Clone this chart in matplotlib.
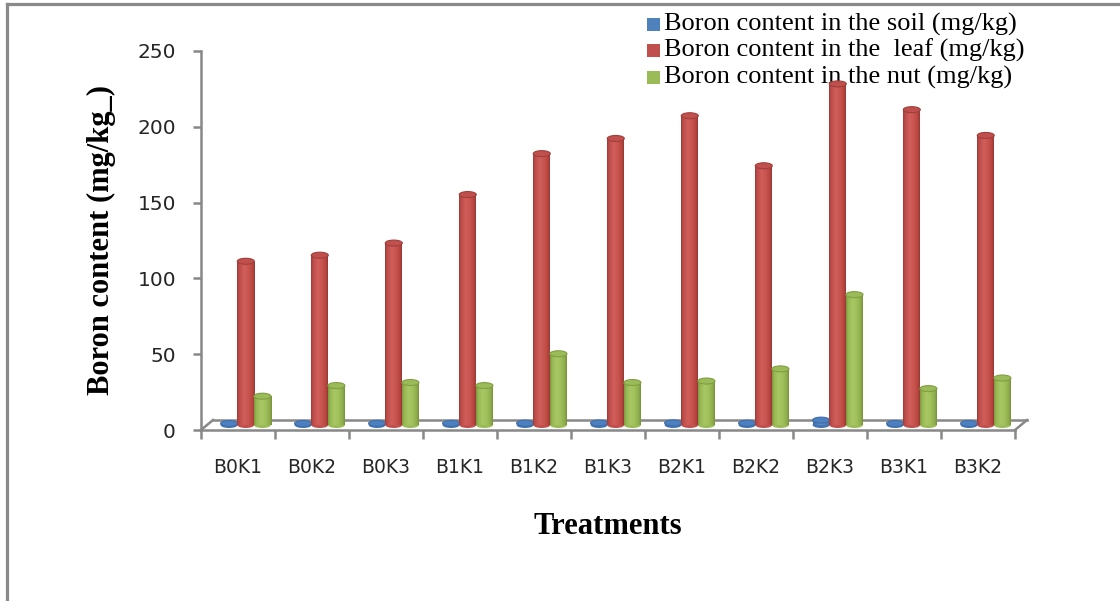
import numpy as np
import matplotlib
matplotlib.use("Agg")
import matplotlib.pyplot as plt
from matplotlib.colors import LinearSegmentedColormap
from matplotlib.patches import Ellipse, Rectangle
from matplotlib.lines import Line2D

# ---- data -------------------------------------------------------------
treatments = ["B0K1", "B0K2", "B0K3", "B1K1", "B1K2", "B1K3",
              "B2K1", "B2K2", "B2K3", "B3K1", "B3K2"]
soil = [1.0, 1.0, 1.1, 1.1, 1.2, 1.3, 1.4, 1.2, 3.2, 1.0, 1.0]
leaf = [108, 112, 120, 152, 179, 189, 204, 171, 225, 208, 191]
nut = [19, 26, 28, 26, 47, 28, 29, 37, 86, 24, 31]
series_labels = ["Boron content in the soil (mg/kg)",
                 "Boron content in the  leaf (mg/kg)",
                 "Boron content in the nut (mg/kg)"]
y_ticks = [0, 50, 100, 150, 200, 250]

# ---- figure geometry ----------------------------------------------------
W, H, DPI = 1120, 601, 100
fig = plt.figure(figsize=(W / DPI, H / DPI), dpi=DPI)
fig.patch.set_facecolor("white")

ax_left, ax_right = 201, 1015          # pixel extent of the category axis
ax_top, ax_bot = 51, 430                # pixel extent of the value axis
ax = fig.add_axes([ax_left / W, 1 - ax_bot / H,
                   (ax_right - ax_left) / W, (ax_bot - ax_top) / H])
ax.set_xlim(0, len(treatments))
ax.set_ylim(0, 250)
ax.patch.set_alpha(0)

px_x = len(treatments) / (ax_right - ax_left)   # data units per pixel
px_y = 250 / (ax_bot - ax_top)

GRAY = "#888888"

# frame around the chart area (top and left edges)
fig.add_artist(Line2D([7 / W, 7 / W], [0, 1 - 4 / H], color="#8a8a8a",
                      lw=2.3, transform=fig.transFigure))
fig.add_artist(Line2D([7 / W, 1], [1 - 4 / H, 1 - 4 / H], color="#8a8a8a",
                      lw=2.3, transform=fig.transFigure))

# ---- axes styling -------------------------------------------------------
for s in ["top", "right", "bottom"]:
    ax.spines[s].set_visible(False)
ax.spines["left"].set_color(GRAY)
ax.spines["left"].set_linewidth(1.8)
ax.set_yticks(y_ticks)
ax.tick_params(axis="y", direction="out", length=6, width=1.8, color=GRAY,
               pad=12, labelsize=14.5, labelcolor="#262626")

n = len(treatments)
ax.set_xticks(np.arange(n + 1))
ax.set_xticklabels([])
ax.tick_params(axis="x", which="major", direction="out", length=6.5,
               width=1.8, color=GRAY)
ax.set_xticks(np.arange(n) + 0.5, minor=True)
ax.set_xticklabels(treatments, minor=True)
ax.tick_params(axis="x", which="minor", length=0, pad=20, labelsize=13.5,
               labelcolor="#262626")

# floor of the pseudo-3D plot
dx, dy = 12 * px_x, 10 * px_y
floor_kw = dict(color=GRAY, lw=1.8, clip_on=False, zorder=2,
                solid_capstyle="projecting")
ax.plot([0, n], [0, 0], **floor_kw)
ax.plot([dx, n + dx], [dy, dy], **floor_kw)
ax.plot([0, dx], [0, dy], **floor_kw)
ax.plot([n, n + dx], [0, dy], **floor_kw)

# ---- cylinders ----------------------------------------------------------
def make_cmap(stops):
    return LinearSegmentedColormap.from_list("cyl", stops)

styles = {
    "soil": dict(cmap=make_cmap([(0, "#3a6aa6"), (0.4, "#5f8fcc"),
                                 (0.7, "#4f81bd"), (1, "#3a68a3")]),
                 top="#4d80c0", edge="#3f6fab", base="#4474b2"),
    "leaf": dict(cmap=make_cmap([(0, "#9c3b38"), (0.12, "#bd4c49"),
                                 (0.4, "#d05f5b"), (0.65, "#c9544f"),
                                 (0.88, "#b7453f"), (1, "#983834")]),
                 top="#c0504d", edge="#a13e3b", base="#c0504d"),
    "nut": dict(cmap=make_cmap([(0, "#7b973e"), (0.12, "#97b754"),
                                (0.4, "#a9c865"), (0.65, "#9fbf5b"),
                                (0.88, "#8eac4b"), (1, "#77923b")]),
                top="#9bbb59", edge="#809e42", base="#9bbb59"),
}

grad = np.linspace(0, 1, 64).reshape(1, -1)
bar_w = 17 * px_x
ell_h = 6 * px_y
base = dy / 2          # bars stand at mid-depth of the floor
offsets = {"soil": 0.38, "leaf": 0.605, "nut": 0.83}


def cylinder(xc, value, st, z):
    x0, x1 = xc - bar_w / 2, xc + bar_w / 2
    ax.add_patch(Ellipse((xc, base), bar_w, ell_h, facecolor=st["base"],
                         edgecolor="none", zorder=z - 0.2))
    ax.imshow(grad, extent=(x0, x1, base, base + value), cmap=st["cmap"],
              aspect="auto", interpolation="bilinear", zorder=z)
    ax.add_patch(Ellipse((xc, base + value), bar_w, ell_h,
                         facecolor=st["top"], edgecolor=st["edge"], lw=0.8,
                         zorder=z + 0.2))


for i in range(n):
    for k, (name, vals) in enumerate([("soil", soil), ("leaf", leaf),
                                      ("nut", nut)]):
        cylinder(i + offsets[name], vals[i], styles[name], 10 + i * 3 + k)

ax.set_xlim(0, n)
ax.set_ylim(0, 250)

# ---- legend (drawn beneath the bars) -----------------------------------
leg_colors = ["#4f81bd", "#c0504d", "#9bbb59"]
leg_y = [24, 50, 77]
for lab, col, yy in zip(series_labels, leg_colors, leg_y):
    ax.add_patch(Rectangle(((647) / W, 1 - (yy + 7) / H), 13 / W, 13 / H,
                           transform=fig.transFigure, facecolor=col,
                           edgecolor="none", clip_on=False, zorder=1))
    ax.text(664 / W, 1 - yy / H, lab, transform=fig.transFigure,
            family="Liberation Serif", fontsize=19, va="center", ha="left",
            color="black", clip_on=False, zorder=1)

# ---- axis titles ---------------------------------------------------------
fig.text(101 / W, 1 - 240 / H, "Boron content (mg/kg_)", rotation=90,
         family="Liberation Serif", fontweight="bold", fontsize=22,
         ha="center", va="center")
fig.text(608 / W, 1 - 527 / H, "Treatments", family="Liberation Serif",
         fontweight="bold", fontsize=22, ha="center", va="center")

fig.savefig("out.png", dpi=DPI, facecolor="white")
